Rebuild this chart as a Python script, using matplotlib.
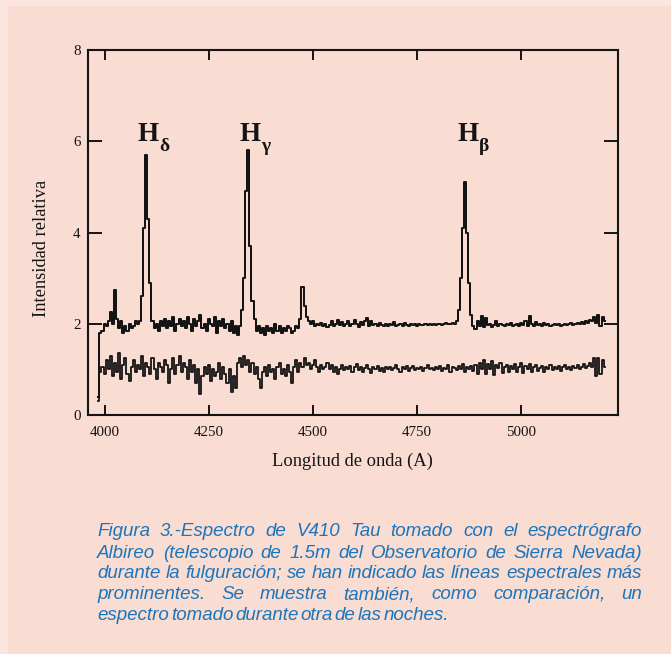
import numpy as np
import matplotlib
matplotlib.use("Agg")
import matplotlib.pyplot as plt
from matplotlib.patches import Rectangle

# ---------------- data ----------------
wave_start = 3985   # first sample, Angstrom
wave_step = 5       # sampling, Angstrom

flare = [
    0.40, 1.80, 1.85, 2.00, 1.95, 2.05, 2.25, 2.00, 2.75, 2.10, 1.90, 2.05, 1.80, 1.95, 1.85, 2.00, 1.90, 1.95, 2.05, 2.00,
    2.05, 2.60, 4.10, 5.70, 4.30, 2.90, 2.05, 1.90, 2.00, 1.85, 2.05, 1.95, 2.10, 1.90, 2.05, 1.95, 2.15, 1.85, 2.00, 2.10,
    1.95, 2.05, 1.90, 2.15, 2.00, 1.85, 2.10, 1.95, 2.05, 2.20, 1.90, 2.00, 1.85, 2.10, 2.00, 1.95, 2.15, 1.80, 2.05, 1.95,
    2.10, 1.90, 2.00, 1.85, 2.05, 1.80, 1.95, 1.75, 1.95, 2.30, 3.00, 4.90, 5.80, 3.70, 2.50, 2.10, 1.85, 1.95, 1.80, 1.90,
    1.75, 1.95, 1.85, 1.90, 1.80, 2.00, 1.85, 1.95, 1.80, 1.90, 1.85, 1.95, 1.90, 1.80, 1.85, 1.95, 1.90, 2.10, 2.80, 2.40,
    2.15, 2.05, 2.00, 2.05, 1.95, 2.00, 1.97, 2.02, 1.95, 2.00, 1.93, 1.98, 2.05, 1.95, 2.00, 2.08, 1.97, 2.03, 1.95, 2.00,
    2.05, 1.95, 2.00, 2.08, 2.00, 1.93, 2.03, 1.97, 2.05, 2.12, 1.95, 2.05, 1.98, 2.00, 1.95, 2.02, 1.97, 1.95, 2.00, 1.96,
    2.00, 1.97, 2.03, 1.95, 1.98, 2.00, 1.96, 2.02, 1.98, 1.95, 2.00, 1.97, 1.99, 1.96, 2.00, 1.98, 1.97, 2.00, 1.98, 2.00,
    1.98, 2.00, 1.97, 1.99, 2.00, 1.98, 2.00, 2.02, 1.99, 2.00, 2.02, 2.00, 2.05, 2.30, 3.00, 4.10, 5.10, 4.00, 2.90, 2.20,
    1.95, 1.88, 2.05, 1.95, 2.18, 1.92, 2.12, 1.98, 2.00, 1.93, 1.98, 2.05, 1.95, 2.00, 1.97, 1.95, 2.00, 1.97, 2.02, 1.96,
    1.98, 2.00, 1.95, 2.02, 1.97, 2.05, 1.95, 2.18, 2.00, 1.95, 2.03, 1.97, 2.00, 1.95, 2.02, 1.97, 1.99, 1.96, 1.98, 2.00,
    1.97, 1.99, 1.96, 1.98, 2.00, 1.97, 1.99, 2.01, 1.98, 2.00, 2.02, 1.99, 2.03, 2.00, 2.05, 2.02, 2.08, 2.05, 2.15, 2.02,
    2.20, 1.95, 2.15, 2.05,
]

quiet = [
    0.30, 0.95, 1.05, 0.90, 1.20, 1.00, 1.30, 0.85, 1.15, 0.95, 1.35, 0.80, 1.10, 1.25, 0.90, 0.75, 1.05, 1.20, 0.95, 1.10,
    1.00, 1.30, 0.85, 1.15, 1.05, 0.90, 1.25, 1.00, 0.80, 1.15, 1.05, 0.95, 1.20, 1.10, 0.70, 1.00, 1.25, 0.90, 1.10, 1.30,
    0.95, 1.15, 1.05, 0.80, 1.20, 0.95, 1.10, 0.70, 1.00, 0.45, 0.85, 1.05, 0.90, 1.10, 0.75, 1.00, 0.85, 0.95, 1.15, 0.80,
    1.05, 0.90, 0.70, 1.00, 0.50, 0.85, 0.60, 1.15, 1.25, 1.05, 1.30, 1.10, 1.20, 0.95, 1.15, 0.90, 1.05, 0.80, 0.60, 0.95,
    1.05, 0.85, 1.10, 0.95, 1.00, 0.80, 1.05, 1.15, 0.90, 1.00, 0.85, 1.10, 0.95, 0.70, 1.05, 1.20, 0.95, 1.15, 1.05, 1.25,
    1.10, 1.15, 1.00, 1.10, 1.20, 1.05, 0.95, 1.10, 1.00, 1.05, 1.15, 1.00, 1.10, 0.95, 1.05, 0.90, 1.00, 1.10, 0.98, 1.05,
    1.00, 1.08, 0.95, 1.05, 1.12, 0.98, 1.05, 0.95, 1.02, 1.10, 1.00, 0.93, 1.05, 1.00, 1.08, 0.97, 1.03, 0.95, 1.05, 1.00,
    1.05, 0.98, 1.03, 1.10, 1.00, 0.95, 1.05, 1.00, 1.07, 0.97, 1.02, 1.08, 0.98, 1.03, 1.00, 1.06, 0.97, 1.04, 1.10, 1.00,
    1.02, 0.98, 1.05, 1.00, 1.08, 0.97, 1.03, 1.00, 1.10, 0.95, 1.05, 1.02, 0.98, 1.07, 1.00, 1.12, 0.95, 1.05, 1.00, 1.08,
    0.97, 1.10, 0.90, 1.15, 1.00, 1.20, 0.90, 1.12, 1.00, 1.18, 0.88, 1.10, 1.02, 1.15, 0.92, 1.05, 1.10, 0.95, 1.08, 1.00,
    1.12, 0.95, 1.05, 1.15, 0.92, 1.08, 1.00, 1.12, 0.95, 1.05, 1.10, 0.97, 1.03, 1.08, 0.95, 1.05, 1.00, 1.10, 0.98, 1.05,
    1.00, 1.08, 0.97, 1.05, 1.10, 1.00, 1.05, 0.98, 1.08, 1.02, 1.10, 1.00, 1.05, 1.12, 1.02, 1.08, 1.15, 1.05, 1.25, 0.85,
    1.25, 0.90, 1.20, 1.05,
]

line_names = ["H", "H", "H"]
line_subs = ["δ", "γ", "β"]
line_label_x = [4080, 4324, 4847]

x_ticks = [4000, 4250, 4500, 4750, 5000]
y_ticks = [0, 2, 4, 6, 8]
x_label = "Longitud de onda (A)"
y_label = "Intensidad relativa"

caption_lines = [
    "Figura 3.-Espectro de V410 Tau tomado con el espectrógrafo",
    "Albireo (telescopio de 1.5m del Observatorio de Sierra Nevada)",
    "durante la fulguración; se han indicado las líneas espectrales más",
    "prominentes. Se muestra también, como comparación, un",
    "espectro tomado durante otra de las noches.",
]

# ---------------- style ----------------
plt.rcParams["font.family"] = "serif"
plt.rcParams["font.serif"] = ["Liberation Serif", "DejaVu Serif"]

W, H = 671, 654
BG = "#f9dcd2"
INK = "#141414"

fig = plt.figure(figsize=(W / 100, H / 100), dpi=100)
fig.patch.set_facecolor("#fae6de")
fig.patches.append(Rectangle((8 / W, 0), 1, 1 - 6 / H, transform=fig.transFigure,
                             facecolor=BG, edgecolor="none", zorder=-10))

left, right, top, bottom = 87.5, 618, 50, 415
ax = fig.add_axes([left / W, 1 - bottom / H, (right - left) / W, (bottom - top) / H])
ax.set_facecolor("none")

wave = wave_start + wave_step * np.arange(len(flare))
ax.plot(wave, flare, drawstyle="steps-mid", color=INK, lw=1.45)
ax.plot(wave, quiet, drawstyle="steps-mid", color=INK, lw=1.3)

ax.set_xlim(3959, 5232)
ax.set_ylim(0, 8)
ax.set_xticks(x_ticks)
ax.set_yticks(y_ticks)
ax.tick_params(axis="x", direction="in", top=True, length=7.5, width=1.4, pad=8,
               labelsize=10.8, colors=INK)
ax.tick_params(axis="y", direction="in", right=True, length=10, width=1.4, pad=5,
               labelsize=10.8, colors=INK)
for s in ax.spines.values():
    s.set_linewidth(1.5)
    s.set_color(INK)

for nm, sub, lx in zip(line_names, line_subs, line_label_x):
    ax.text(lx, 6.0, nm, fontsize=19.5, fontweight="bold", ha="left", va="baseline", color=INK)
    ax.annotate(sub, xy=(lx, 6.0), xytext=(15.5, -7.0), textcoords="offset points",
                fontsize=14, fontweight="bold", ha="left", va="baseline", color=INK)

fig.text((left + right) / 2 / W, 1 - 461 / H, x_label, fontsize=13.3,
         ha="center", va="center", color=INK)
fig.text(42 / W, 1 - 248 / H, y_label, fontsize=13.3, rotation=90,
         ha="center", va="center", color=INK)

# ---------------- justified caption ----------------
cap_props = dict(family="Liberation Sans", style="italic", fontsize=13.5, color="#1b75bc")
fig.canvas.draw()
renderer = fig.canvas.get_renderer()


def word_w(w):
    t = fig.text(0, 0, w, **cap_props)
    wd = t.get_window_extent(renderer).width
    t.remove()
    return wd


x0, x1 = 97, 642
baselines = [536.5, 557.5, 578, 599, 619.5]
for i, (line, yb) in enumerate(zip(caption_lines, baselines)):
    words = line.split(" ")
    widths = [word_w(w) for w in words]
    if i < len(caption_lines) - 1:
        gap = (x1 - x0 - sum(widths)) / (len(words) - 1)
    else:
        gap = 2.0
    x = x0
    for w, wd in zip(words, widths):
        fig.text(x / W, 1 - yb / H, w, ha="left", va="baseline", **cap_props)
        x += wd + gap

fig.savefig("out.png", dpi=100, facecolor=fig.get_facecolor())
